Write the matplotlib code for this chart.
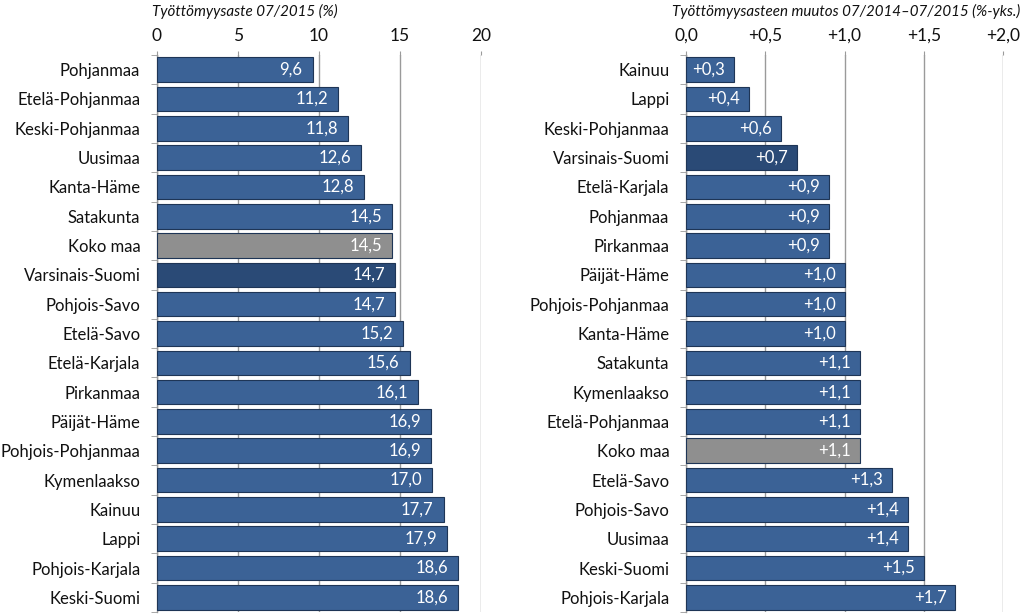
import matplotlib
matplotlib.use("Agg")
import matplotlib.pyplot as plt
import numpy as np

plt.rcParams['font.family'] = ['Lato', 'DejaVu Sans']

left_regions = ["Pohjanmaa", "Etelä-Pohjanmaa", "Keski-Pohjanmaa", "Uusimaa", "Kanta-Häme",
                "Satakunta", "Koko maa", "Varsinais-Suomi", "Pohjois-Savo", "Etelä-Savo",
                "Etelä-Karjala", "Pirkanmaa", "Päijät-Häme", "Pohjois-Pohjanmaa", "Kymenlaakso",
                "Kainuu", "Lappi", "Pohjois-Karjala", "Keski-Suomi"]
left_values = [9.6, 11.2, 11.8, 12.6, 12.8, 14.5, 14.5, 14.7, 14.7, 15.2,
               15.6, 16.1, 16.9, 16.9, 17.0, 17.7, 17.9, 18.6, 18.6]

right_regions = ["Kainuu", "Lappi", "Keski-Pohjanmaa", "Varsinais-Suomi", "Etelä-Karjala",
                 "Pohjanmaa", "Pirkanmaa", "Päijät-Häme", "Pohjois-Pohjanmaa", "Kanta-Häme",
                 "Satakunta", "Kymenlaakso", "Etelä-Pohjanmaa", "Koko maa", "Etelä-Savo",
                 "Pohjois-Savo", "Uusimaa", "Keski-Suomi", "Pohjois-Karjala"]
right_values = [0.3, 0.4, 0.6, 0.7, 0.9, 0.9, 0.9, 1.0, 1.0, 1.0,
                1.1, 1.1, 1.1, 1.1, 1.3, 1.4, 1.4, 1.5, 1.7]

left_ticks = [0, 5, 10, 15, 20]
left_ticklabels = ["0", "5", "10", "15", "20"]
right_ticks = [0.0, 0.5, 1.0, 1.5, 2.0]
right_ticklabels = ["0,0", "+0,5", "+1,0", "+1,5", "+2,0"]

left_title = "Työttömyysaste 07/2015 (%)"
right_title = "Työttömyysasteen muutos 07/2014–07/2015 (%-yks.)"

BLUE = "#3b6296"
DARK = "#2a4a76"
GRAY = "#8f8f8f"
EDGE = "#1e3556"
GRID = "#9a9a9a"


def color_for(name):
    if name == "Koko maa":
        return GRAY
    if name == "Varsinais-Suomi":
        return DARK
    return BLUE


W, H = 1023, 615
fig = plt.figure(figsize=(W / 100, H / 100), dpi=100)
axL = fig.add_axes([157 / W, 3 / H, 324 / W, 557 / H])
axR = fig.add_axes([686 / W, 3 / H, 317 / W, 557 / H])


def draw(ax, regions, values, ticks, ticklabels, title, title_x, xmax, fmt, offset):
    n = len(regions)
    y = np.arange(n)
    cols = [color_for(r) for r in regions]
    ax.barh(y, values, height=0.84, color=cols, edgecolor=EDGE, linewidth=0.8, zorder=3)
    ax.set_ylim(n - 0.5, -0.5)
    ax.set_xlim(0, xmax)
    ax.set_xticks(ticks)
    ax.set_xticklabels(ticklabels, fontsize=12.5)
    ax.xaxis.tick_top()
    ax.tick_params(axis='x', length=3, color=GRID, pad=5, labelcolor='#111111')
    ax.set_yticks(y)
    ax.set_yticklabels(regions, fontsize=12)
    ax.tick_params(axis='y', which='major', length=0, pad=12, labelcolor='#111111')
    ax.set_yticks(np.arange(n + 1) - 0.5, minor=True)
    ax.tick_params(axis='y', which='minor', length=4, color=GRID, direction='out')
    ax.grid(axis='x', color=GRID, linewidth=1.0, zorder=0)
    for s in ['top', 'right', 'bottom']:
        ax.spines[s].set_visible(False)
    ax.spines['left'].set_color(GRID)
    ax.spines['left'].set_linewidth(1.0)
    fig.text(title_x / W, 1 - 11 / H, title, fontsize=10.9, style='italic',
             ha='left', va='center', color='#111111')
    for yi, v in zip(y, values):
        ax.text(v - offset, yi, fmt(v), ha='right', va='center', color='white',
                fontsize=12, zorder=4)


draw(axL, left_regions, left_values, left_ticks, left_ticklabels, left_title, 152, 20,
     lambda v: f"{v:.1f}".replace('.', ','), 0.62)
draw(axR, right_regions, right_values, right_ticks, right_ticklabels, right_title, 672, 2.0,
     lambda v: "+" + f"{v:.1f}".replace('.', ','), 0.057)

fig.savefig("out.png", dpi=100)
